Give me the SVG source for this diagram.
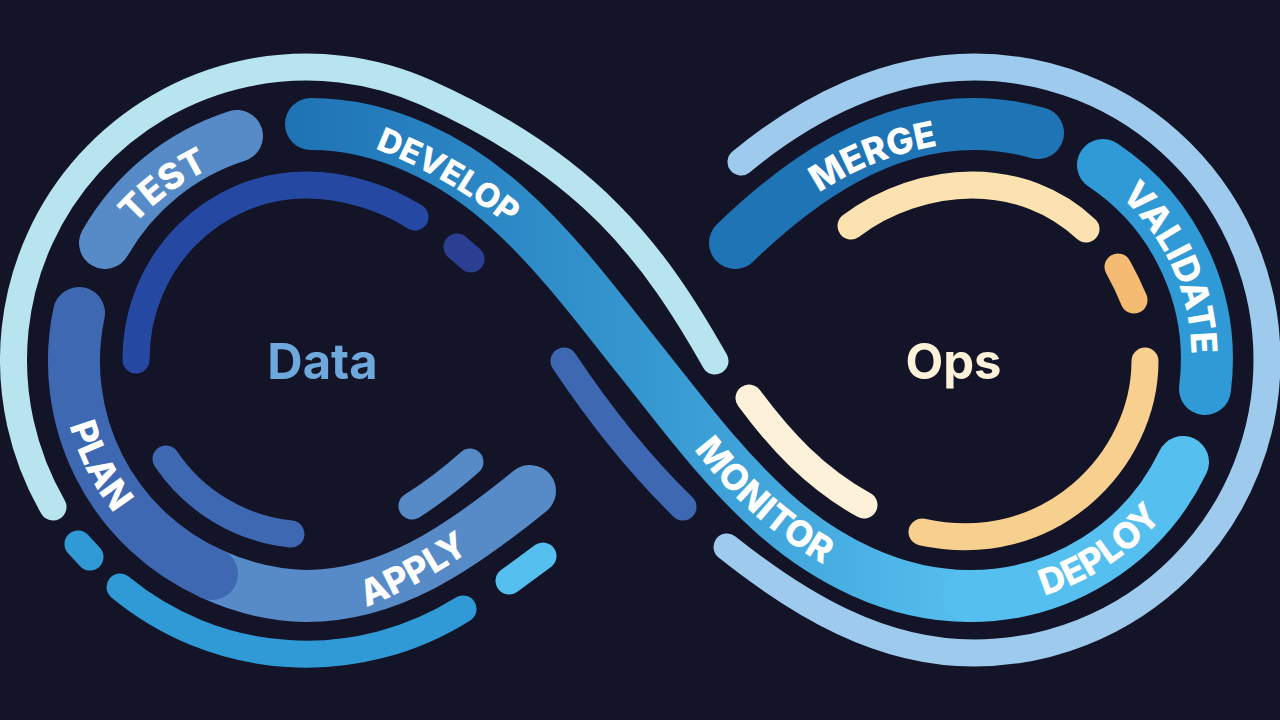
<svg xmlns="http://www.w3.org/2000/svg" width="1280" height="720" viewBox="0 0 1280 720">
<style>
.b{fill:none;stroke-linecap:round}
.w27{stroke-width:27}
.w52{stroke-width:52}
.lbl{font-family:Inter,"Liberation Sans",sans-serif;font-weight:800;font-size:36px;fill:#fff;text-anchor:middle}
.sm{font-size:33px}
.big{font-family:Inter,"Liberation Sans",sans-serif;font-weight:700;font-size:49px;text-anchor:middle}
</style>
<defs>
<linearGradient id="g" gradientUnits="userSpaceOnUse" x1="300" y1="0" x2="970" y2="0"><stop offset="0" stop-color="#1f74b6"/><stop offset=".5" stop-color="#3596cf"/><stop offset="1" stop-color="#55bfef"/></linearGradient>
<path id="tTest" d="M125,236 Q163,188 223,163"/>
<path id="tDev" d="M368,146 Q448,176 514,230"/>
<path id="tMerge" d="M805,203 Q867,155 955,143"/>
<path id="tVal" d="M1068,161 A218,218 0 0 1 1183,417"/>
<path id="tPlan" d="M63,326 A246,246 0 0 0 191,577"/>
<path id="tApply" d="M335,617 Q410,597 497,532"/>
<path id="tMon" d="M687,440 Q749,525 834,570"/>
<path id="tDep" d="M967,606 A246,246 0 0 0 1202,450"/>
</defs>
<rect width="1280" height="720" fill="#141428"/>
<g id="connectors">
<path class="b w27" stroke="#b7e4ef" d="M53,507 A293,293 0 0 1 427,93 C590,166 655,255 715,361"/>
<path class="b w27" stroke="#9ecbed" d="M741,162 C810,105 890,67 974,67 A293,293 0 1 1 974,653 C880,653 800,605 727,547"/>
<path class="b w27" stroke="#2f9ad6" d="M120,587 A293,293 0 0 0 463,609"/>
<path class="b w27" stroke="#2f9ad6" d="M78,544 L90,557"/>
<path class="b w27" stroke="#55bfef" d="M509,581 L543,556"/>
<path class="b w27" stroke="#2549a3" d="M136,360 C136,260 215,185 306,185 C345,185 385,198 415,217"/>
<path class="b w27" stroke="#2a3f92" d="M457,247 L471,259"/>
<path class="b w27" stroke="#3e68b2" d="M166,459 A172,172 0 0 0 291,534"/>
<path class="b w27" stroke="#568bc7" d="M412,506 Q442,487 470,462"/>
<path class="b w27" stroke="#3e68b2" d="M564,361 C600,415 640,465 683,507"/>
<path class="b w27" stroke="#fdf2d9" d="M749,398 C780,440 815,478 864,505"/>
<path class="b w27" stroke="#f7cf8e" d="M922,532 C1050,560 1145,460 1145,361"/>
<path class="b w27" stroke="#fce1b1" d="M851,226 C885,200 930,185 972,185 C1015,185 1055,200 1086,229"/>
<path class="b w27" stroke="#f5bb72" d="M1118,267 Q1127,283 1134,300"/>
</g>
<g id="node-test"><path class="b w52" stroke="#568bc7" d="M105,243 A234,234 0 0 1 237,136"/><text class="lbl"><textPath href="#tTest" startOffset="50%">TEST</textPath></text></g>
<g id="node-develop"><path class="b w52" stroke="url(#g)" d="M311,124 C385,124 455,160 508,208 C560,255 600,310 640,360 C680,410 720,465 772,512 C825,560 895,596 969,596"/><text class="lbl sm"><textPath href="#tDev" startOffset="50%">DEVELOP</textPath></text><text class="lbl"><textPath href="#tMon" startOffset="50%">MONITOR</textPath></text></g>
<g id="node-apply"><path class="b w52" stroke="#568bc7" d="M212,574 A236,236 0 0 0 306,596 C390,596 460,548 530,491"/><text class="lbl"><textPath href="#tApply" startOffset="50%">APPLY</textPath></text></g>
<g id="node-plan"><path class="b w52" stroke="#3e68b2" d="M79,313 A233,233 0 0 0 212,574"/><text class="lbl"><textPath href="#tPlan" startOffset="50%">PLAN</textPath></text></g>
<g id="node-merge"><path class="b w52" stroke="#1f74b6" d="M735,243 C800,180 880,124 974,124 A236,236 0 0 1 1038,133"/><text class="lbl"><textPath href="#tMerge" startOffset="50%">MERGE</textPath></text></g>
<g id="node-validate"><path class="b w52" stroke="#2f9ad6" d="M1103,165 A234,234 0 0 1 1205,389"/><text class="lbl"><textPath href="#tVal" startOffset="50%">VALIDATE</textPath></text></g>
<g id="node-deploy"><path class="b w52" stroke="#55bfef" d="M969,596 A236,236 0 0 0 1183,462"/><text class="lbl"><textPath href="#tDep" startOffset="50%">DEPLOY</textPath></text></g>
<g id="node-data"><text class="big" x="322.5" y="379" fill="#6fa8dc">Data</text></g>
<g id="node-ops"><text class="big" x="953.5" y="379" fill="#fdf2d9">Ops</text></g>
</svg>
